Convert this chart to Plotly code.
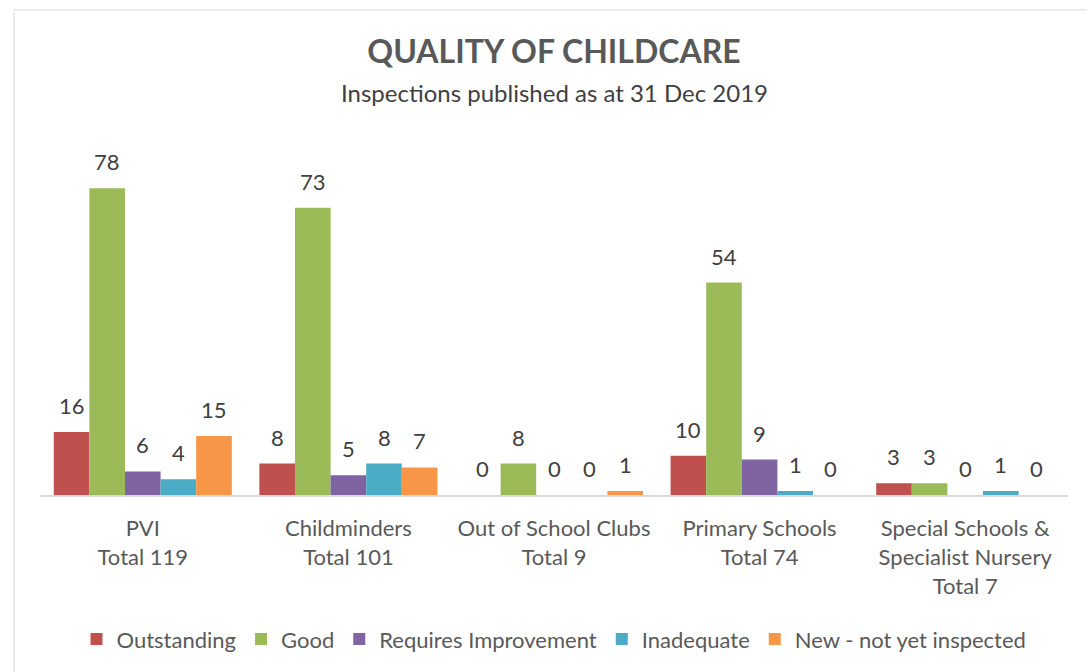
import plotly.graph_objects as go

categories = ["PVI<br>Total 119", "Childminders<br>Total 101", "Out of School Clubs<br>Total 9",
              "Primary Schools<br>Total 74", "Special Schools &<br>Specialist Nursery<br>Total 7"]
series_names = ["Outstanding", "Good", "Requires Improvement", "Inadequate", "New - not yet inspected"]
outstanding = [16, 8, 0, 10, 3]
good = [78, 73, 8, 54, 3]
requires_improvement = [6, 5, 0, 9, 0]
inadequate = [4, 8, 0, 1, 1]
new_not_inspected = [15, 7, 1, 0, 0]
colors = ["#C0504D", "#9BBB59", "#8064A2", "#4BACC6", "#F79646"]

series_values = [outstanding, good, requires_improvement, inadequate, new_not_inspected]

W, H = 1087, 672
ML, MR, MT, MB = 40, 19, 141, 175
BARGAP = 0.134
FONT = "Lato"

fig = go.Figure()
for name, vals, col in zip(series_names, series_values, colors):
    fig.add_trace(go.Bar(x=list(range(len(categories))), y=vals, name=name,
                         marker=dict(color=col, line=dict(width=0))))

# data labels via annotations anchored on the axes
n = len(series_names)
slot = (1 - BARGAP) / n
for j, vals in enumerate(series_values):
    off = -(1 - BARGAP) / 2 + (j + 0.5) * slot
    for i, v in enumerate(vals):
        fig.add_annotation(x=i + off, y=v, xref="x", yref="y", text=str(v),
                           showarrow=False, yanchor="bottom", yshift=11,
                           font=dict(family=FONT, size=22, color="#404040"))

pw = W - ML - MR
ph = H - MT - MB
def px_x(p):
    return (p - ML) / pw
def px_y(p):
    return (H - MB - p) / ph

# chart frame
fig.add_shape(type="rect", xref="paper", yref="paper",
              x0=px_x(14), x1=px_x(1100), y0=px_y(700), y1=px_y(9),
              line=dict(color="#D9D9D9", width=1), fillcolor="rgba(0,0,0,0)", layer="below")

fig.update_layout(
    width=W, height=H,
    margin=dict(l=ML, r=MR, t=MT, b=MB),
    paper_bgcolor="white", plot_bgcolor="white",
    barmode="group", bargap=BARGAP, bargroupgap=0,
    title=dict(text="<b>QUALITY OF CHILDCARE</b>", x=0.5, xanchor="center", xref="paper",
               y=1 - 52 / H, yanchor="middle",
               font=dict(family=FONT, size=32, color="#595959")),
    font=dict(family=FONT, color="#595959"),
    showlegend=True,
    legend=dict(orientation="h", x=0.5, xanchor="center", y=px_y(642), yanchor="middle",
                font=dict(family=FONT, size=22, color="#595959"), traceorder="normal",
                itemwidth=30),
    xaxis=dict(tickmode="array", tickvals=list(range(len(categories))), ticktext=categories,
               range=[-0.5, len(categories) - 0.5],
               showline=True, linecolor="#D9D9D9", linewidth=2, showgrid=False, zeroline=False,
               ticks="", tickfont=dict(family=FONT, size=22, color="#595959"),
               ticklabelstandoff=13),
    yaxis=dict(range=[0, 90], visible=False, showgrid=False, zeroline=False),
)

fig.add_annotation(text="Inspections published as at 31 Dec 2019", xref="paper", yref="paper",
                   x=0.5, y=px_y(92), xanchor="center", yanchor="middle", showarrow=False,
                   font=dict(family=FONT, size=24, color="#404040"))

fig.write_html("out.html")
